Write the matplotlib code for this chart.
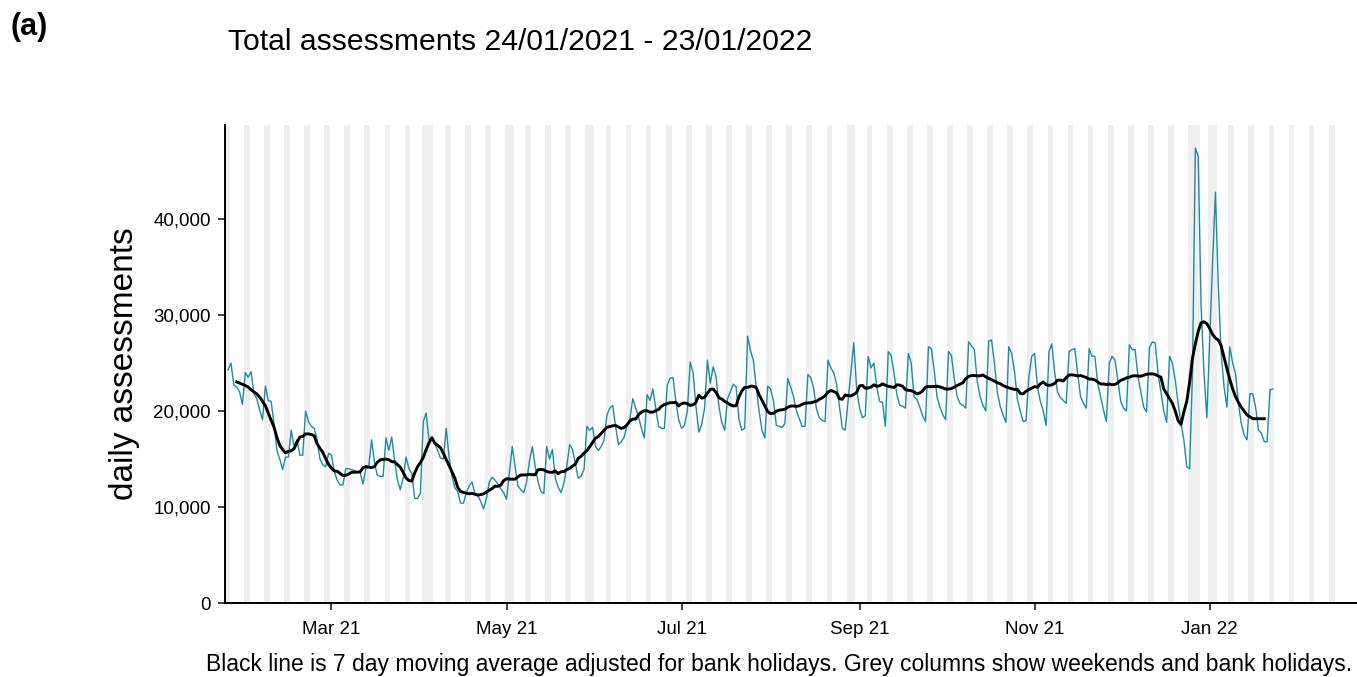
import numpy as np
import pandas as pd
import matplotlib
matplotlib.use("Agg")
import matplotlib.pyplot as plt
import matplotlib.dates as mdates
from matplotlib.ticker import FuncFormatter

plt.rcParams["font.family"] = ["Liberation Sans", "DejaVu Sans"]

# Daily assessments in thousands. First row is Sun 24 Jan - Fri 29 Jan,
# every row after that runs Saturday .. Friday.
assess_k = [
    24.3, 25.0, 22.7, 22.5, 22.0, 20.7,
    24.0, 23.5, 24.1, 21.8, 21.3, 20.1, 19.1,   # 30 Jan
    22.6, 21.1, 21.0, 18.7, 15.9, 15.0, 13.9,   # 06 Feb
    15.2, 15.2, 18.0, 16.3, 17.0, 15.4, 15.4,   # 13 Feb
    20.0, 18.9, 18.4, 18.2, 17.0, 15.0, 14.4,   # 20 Feb
    14.2, 15.6, 15.4, 13.7, 12.8, 12.3, 12.3,   # 27 Feb
    14.0, 14.0, 13.9, 13.8, 13.7, 13.6, 12.4,   # 06 Mar
    14.0, 14.2, 17.0, 14.6, 13.3, 13.2, 13.2,   # 13 Mar
    17.2, 15.9, 17.3, 14.9, 12.8, 11.8, 13.0,   # 20 Mar
    15.2, 14.0, 13.5, 10.9, 10.9, 11.4, 18.9,   # 27 Mar
    19.8, 17.0, 17.2, 16.6, 15.9, 15.1, 15.0,   # 03 Apr
    18.2, 15.2, 13.2, 12.0, 11.6, 10.4, 10.4,   # 10 Apr
    11.5, 12.2, 12.6, 11.4, 11.2, 10.6, 9.8,    # 17 Apr
    10.9, 12.6, 13.1, 12.8, 12.4, 11.9, 11.5,   # 24 Apr
    10.8, 13.5, 16.3, 14.2, 12.2, 11.8, 11.5,   # 01 May
    12.6, 14.8, 16.3, 14.2, 12.6, 11.6, 11.4,   # 08 May
    16.3, 15.0, 16.0, 13.0, 12.1, 11.5, 12.5,   # 15 May
    14.2, 16.5, 16.0, 14.5, 13.0, 13.2, 13.9,   # 22 May
    18.4, 18.0, 18.3, 16.3, 15.9, 16.3, 17.0,   # 29 May
    19.6, 20.3, 20.6, 18.4, 16.5, 16.8, 17.3,   # 05 Jun
    18.5, 19.2, 21.3, 20.3, 19.4, 18.2, 17.2,   # 12 Jun
    21.7, 21.1, 22.3, 20.3, 18.4, 18.2, 18.2,   # 19 Jun
    22.7, 23.4, 23.5, 21.0, 19.1, 18.2, 18.5,   # 26 Jun
    20.0, 25.1, 24.0, 20.5, 17.8, 18.6, 20.3,   # 03 Jul
    25.3, 22.9, 24.6, 23.6, 20.5, 18.8, 18.0,   # 10 Jul
    21.3, 22.0, 22.8, 22.5, 19.1, 18.0, 18.2,   # 17 Jul
    27.8, 26.3, 25.3, 22.5, 20.0, 18.0, 17.2,   # 24 Jul
    22.6, 22.3, 21.1, 18.5, 18.4, 18.3, 18.7,   # 31 Jul
    23.4, 22.5, 21.5, 20.0, 19.2, 18.4, 18.4,   # 07 Aug
    23.8, 23.5, 22.4, 20.2, 19.3, 19.0, 18.9,   # 14 Aug
    25.3, 24.5, 24.0, 22.8, 20.5, 18.2, 18.0,   # 21 Aug
    21.0, 24.1, 27.1, 22.3, 20.3, 19.3, 19.5,   # 28 Aug
    25.7, 24.5, 25.0, 22.5, 21.0, 20.9, 18.4,   # 04 Sep
    26.2, 25.8, 24.0, 21.7, 20.6, 20.5, 20.3,   # 11 Sep
    26.0, 25.0, 21.5, 21.2, 20.4, 19.5, 18.9,   # 18 Sep
    26.7, 26.5, 24.3, 21.5, 20.4, 19.6, 19.1,   # 25 Sep
    26.2, 25.8, 23.4, 21.5, 20.8, 20.6, 20.3,   # 02 Oct
    27.2, 26.8, 26.4, 23.1, 21.5, 20.6, 20.0,   # 09 Oct
    27.3, 27.4, 25.0, 22.0, 20.5, 19.6, 18.8,   # 16 Oct
    26.7, 26.0, 24.1, 21.2, 20.0, 18.9, 19.0,   # 23 Oct
    23.6, 25.7, 26.0, 22.5, 21.0, 20.0, 18.5,   # 30 Oct
    26.2, 27.0, 24.0, 22.0, 21.4, 21.1, 20.8,   # 06 Nov
    26.2, 26.4, 26.5, 23.9, 21.5, 20.8, 20.3,   # 13 Nov
    26.5, 25.7, 25.7, 22.8, 21.5, 20.1, 18.9,   # 20 Nov
    25.0, 25.7, 25.3, 23.2, 21.0, 20.3, 20.0,   # 27 Nov
    26.9, 26.4, 26.4, 23.6, 22.0, 20.4, 19.9,   # 04 Dec
    26.6, 27.2, 27.1, 23.9, 22.0, 20.0, 18.8,   # 11 Dec
    25.7, 25.0, 23.2, 20.8, 18.7, 17.0, 14.2,   # 18 Dec
    14.0, 24.0, 47.4, 46.5, 31.0, 24.0, 19.3,   # 25 Dec
    27.5, 35.5, 42.8, 33.0, 26.0, 22.5, 20.4,   # 01 Jan
    26.7, 25.0, 23.9, 20.8, 18.7, 17.5, 17.0,   # 08 Jan
    21.8, 21.8, 20.4, 18.0, 17.7, 16.8, 16.8,   # 15 Jan
    22.2, 22.3,                                 # 22 Jan
]

# Over Christmas / New Year the published average is bank-holiday adjusted,
# so it is read straight off the chart (thousands), 16 Dec 2021 - 20 Jan 2022
ADJ_MA_FROM = "2021-12-16"
adj_ma_k = [
    22.3, 21.8, 21.3, 20.8, 20.0, 19.0, 18.6, 19.9, 21.0, 23.0,
    25.5, 27.0, 28.3, 29.2, 29.3, 29.1, 28.6, 28.0, 27.6, 27.4,
    26.8, 25.6, 24.4, 23.3, 22.3, 21.5, 20.9, 20.4, 20.0, 19.6,
    19.4, 19.2, 19.2, 19.2, 19.2, 19.2,
]

START_DATE = "2021-01-24"
BANK_HOLIDAYS = ["2021-04-02", "2021-04-05", "2021-05-03", "2021-05-31",
                 "2021-08-30", "2021-12-27", "2021-12-28", "2022-01-03"]
SHADE_FROM, SHADE_TO = "2021-01-23", "2022-02-13"
X_TICKS = ["2021-03-01", "2021-05-01", "2021-07-01",
           "2021-09-01", "2021-11-01", "2022-01-01"]
Y_TICKS = [0, 10000, 20000, 30000, 40000]

TEAL = "#1a8ca3"

dates = pd.date_range(START_DATE, periods=len(assess_k), freq="D")
daily = pd.Series(np.array(assess_k) * 1000, index=dates)
moving_avg = daily.rolling(7, center=True).mean()
adj_idx = pd.date_range(ADJ_MA_FROM, periods=len(adj_ma_k), freq="D")
moving_avg.loc[adj_idx] = np.array(adj_ma_k) * 1000

fig = plt.figure(figsize=(13.57, 6.77), dpi=100)
ax = fig.add_axes([225 / 1357, 1 - 603 / 677, 1 - 225 / 1357, (603 - 125) / 677])

# weekend / bank holiday columns
bh = pd.to_datetime(BANK_HOLIDAYS)
for day in pd.date_range(SHADE_FROM, SHADE_TO, freq="D"):
    if day.weekday() >= 5 or day in bh:
        n = mdates.date2num(day)
        ax.axvspan(n - 0.5, n + 0.5, facecolor="#efefef", lw=0, zorder=0)

ax.plot(daily.index, daily.values, color=TEAL, lw=1.0, zorder=2)
ax.plot(moving_avg.index, moving_avg.values, color="black", lw=2.1,
        solid_joinstyle="round", zorder=3)

x0 = mdates.date2num(pd.Timestamp(START_DATE)) - 1.08
ax.set_xlim(x0, x0 + 394.4)
ax.set_ylim(0, 49800)

ax.set_xticks(pd.to_datetime(X_TICKS))
ax.xaxis.set_major_formatter(mdates.DateFormatter("%b %y"))
ax.set_yticks(Y_TICKS)
ax.yaxis.set_major_formatter(FuncFormatter(lambda v, p: f"{int(v):,}"))

for side in ("top", "right"):
    ax.spines[side].set_visible(False)
for side in ("left", "bottom"):
    ax.spines[side].set_linewidth(1.4)
    ax.spines[side].set_color("black")
ax.tick_params(axis="both", length=5, width=1.3, color="#333333",
               labelsize=13.5, labelcolor="black")
ax.tick_params(axis="x", pad=8)
ax.tick_params(axis="y", pad=5)

fig.text(10 / 1357, 1 - 27 / 677, "(a)", fontsize=22, fontweight="bold",
         va="center", ha="left")
fig.text(228 / 1357, 1 - 42 / 677, "Total assessments 24/01/2021 - 23/01/2022",
         fontsize=21.7, va="center", ha="left")
fig.text(125 / 1357, 1 - 364 / 677, "daily assessments", fontsize=24,
         rotation=90, va="center", ha="center")
fig.text(1352 / 1357, 1 - 665 / 677,
         "Black line is 7 day moving average adjusted for bank holidays. "
         "Grey columns show weekends and bank holidays.",
         fontsize=16.5, va="center", ha="right")

fig.savefig("out.png", dpi=100)
